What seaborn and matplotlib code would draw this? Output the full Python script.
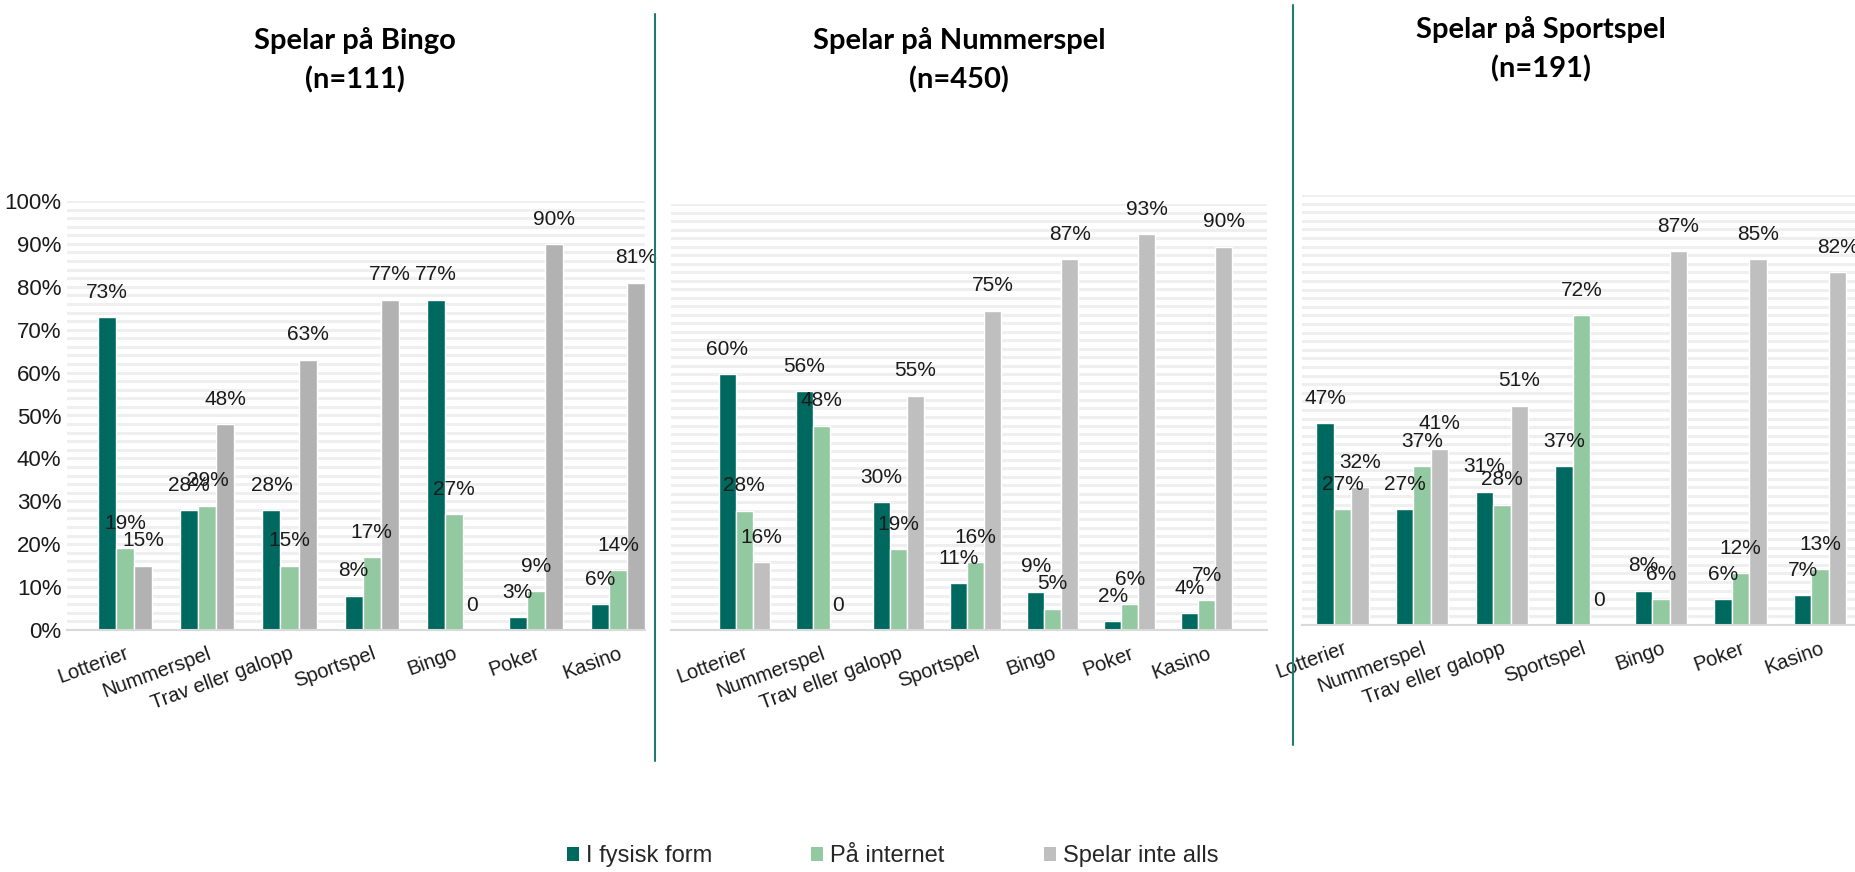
import matplotlib
matplotlib.use('Agg')
from matplotlib import pyplot as plt
from matplotlib.patches import Patch
from matplotlib.lines import Line2D
import seaborn as sns
import pandas as pd
import numpy as np

spel = ['Lotterier', 'Nummerspel', 'Trav eller galopp', 'Sportspel', 'Bingo', 'Poker', 'Kasino']
former = ['I fysisk form', 'På internet', 'Spelar inte alls']

titles = ['Spelar på Bingo\n(n=111)', 'Spelar på Nummerspel\n(n=450)', 'Spelar på Sportspel\n(n=191)']

bingo_fysisk = [73, 28, 28, 8, 77, 3, 6]
bingo_internet = [19, 29, 15, 17, 27, 9, 14]
bingo_inte = [15, 48, 63, 77, 0, 90, 81]

nummer_fysisk = [60, 56, 30, 11, 9, 2, 4]
nummer_internet = [28, 48, 19, 16, 5, 6, 7]
nummer_inte = [16, 0, 55, 75, 87, 93, 90]

sport_fysisk = [47, 27, 31, 37, 8, 6, 7]
sport_internet = [27, 37, 28, 72, 6, 12, 13]
sport_inte = [32, 41, 51, 0, 87, 85, 82]

panels = [
    (bingo_fysisk, bingo_internet, bingo_inte),
    (nummer_fysisk, nummer_internet, nummer_inte),
    (sport_fysisk, sport_internet, sport_inte),
]

teal = '#00695f'
green = '#93c9a0'
grays = ['#b2b2b2', '#bfbfbf', '#bfbfbf']

W, H = 1856, 872
# pixel boxes: left, right, y of 0%, y of 100% (from top)
boxes = [(67, 645, 630, 201), (671, 1267, 630, 204), (1302, 1856, 625, 195)]
xlims = [(-0.71, 6.33), (-0.95, 6.78), (-0.51, 6.45)]
title_pos = [(355, 60), (959, 60), (1541, 49)]

sns.set_theme(style='white')
plt.rcParams['font.family'] = ['Liberation Sans', 'DejaVu Sans']

fig = plt.figure(figsize=(W / 100, H / 100), dpi=100)

for i, (vals, box) in enumerate(zip(panels, boxes)):
    l, r, y0, y100 = box
    ax = fig.add_axes([l / W, (H - y0) / H, (r - l) / W, (y0 - y100) / H])
    df = pd.DataFrame({
        'spel': spel * 3,
        'form': [f for f in former for _ in spel],
        'andel': list(vals[0]) + list(vals[1]) + list(vals[2]),
    })
    sns.barplot(data=df, x='spel', y='andel', hue='form', order=spel, hue_order=former,
                palette=[teal, green, grays[i]], width=0.66, gap=0, saturation=1,
                legend=False, ax=ax)
    for cont in ax.containers:
        labs = [f'{int(b.get_height())}%' if b.get_height() > 0 else '0' for b in cont]
        ax.bar_label(cont, labels=labs, padding=11, fontsize=15, color='#1a1a1a')
    ax.set_ylim(0, 100)
    ax.set_xlim(*xlims[i])
    ax.set_yticks(np.arange(0, 101, 10))
    ax.set_yticks(np.arange(0, 101, 2), minor=True)
    ax.grid(True, axis='y', which='both', color='#efefef', linewidth=2.2)
    ax.set_axisbelow(True)
    for s in ['top', 'right', 'left']:
        ax.spines[s].set_visible(False)
    ax.spines['bottom'].set_color('#d9d9d9')
    ax.spines['bottom'].set_linewidth(1.5)
    ax.tick_params(axis='both', length=0)
    if i == 0:
        ax.set_yticklabels([f'{v}%' for v in range(0, 101, 10)], fontsize=16, color='#1a1a1a')
        ax.tick_params(axis='y', pad=4)
    else:
        ax.set_yticklabels([])
    ax.set_xticks(range(len(spel)))
    ax.set_xticklabels(spel, rotation=20, ha='right', rotation_mode='anchor',
                       fontsize=14.5, color='#1a1a1a')
    ax.tick_params(axis='x', pad=10)
    ax.set_xlabel('')
    ax.set_ylabel('')
    tx, ty = title_pos[i]
    fig.text(tx / W, 1 - ty / H, titles[i], ha='center', va='center', fontsize=21,
             fontweight='bold', family='Lato', linespacing=1.55, color='black')

# vertical divider lines between panels
fig.add_artist(Line2D([655 / W, 655 / W], [1 - 14 / H, 1 - 761 / H], color='#1f7a72', lw=1.5))
fig.add_artist(Line2D([1293 / W, 1293 / W], [1 - 5 / H, 1 - 745 / H], color='#1f7a72', lw=1.5))

handles = [Patch(facecolor=c, edgecolor='none') for c in [teal, green, '#bfbfbf']]
fig.legend(handles, former, loc='center', bbox_to_anchor=(0.481, 0.018), ncol=3, frameon=False,
           fontsize=17, handlelength=0.5, handleheight=0.5, handletextpad=0.3, columnspacing=4.2)

fig.savefig('out.png', dpi=100)
